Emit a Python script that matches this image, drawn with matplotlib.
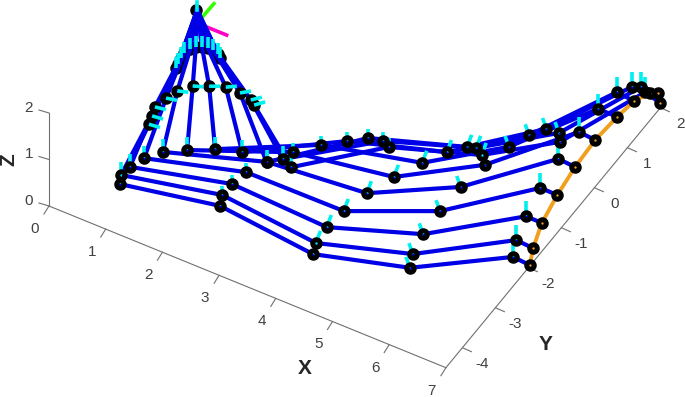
import numpy as np
import matplotlib
matplotlib.use('Agg')
import matplotlib.pyplot as plt

plt.rcParams['font.family'] = ['Liberation Sans', 'DejaVu Sans']

# node positions per column of the mesh, row 0 (front) to row 10 (back)
col0_x = [1.20, 1.12, 1.15, 1.24, 1.42, 1.72, 2.08, 2.47, 2.90, 3.08, 3.28]
col0_y = [-4.42, -4.24, -4.02, -3.75, -3.49, -3.27, -3.04, -2.89, -2.89, -2.71, -2.80]
col0_z = 1.0
col1_x = [2.66, 2.57, 2.58, 2.64, 2.80, 3.04, 3.33, 3.63, 3.88, 4.11, 4.25]
col1_y = [-3.89, -3.67, -3.39, -3.06, -2.71, -2.33, -1.98, -1.71, -1.49, -1.43, -1.50]
col1_z = 0.8
col2_x = [4.31, 4.23, 4.20, 4.25, 4.36, 4.54, 4.76, 4.97, 5.18, 5.31, 5.46]
col2_y = [-3.91, -3.68, -3.30, -2.87, -2.36, -1.85, -1.37, -0.98, -0.73, -0.68, -0.77]
col2_z = 0.6
col3_x = [5.69, 5.58, 5.50, 5.47, 5.48, 5.56, 5.68, 5.82, 5.98, 6.19, 6.30]
col3_y = [-3.34, -3.06, -2.61, -2.05, -1.44, -0.84, -0.32, 0.05, 0.30, 0.32, 0.16]
col3_z = 0.5
col4_x = [6.78, 6.64, 6.51, 6.39, 6.31, 6.29, 6.29, 6.36, 6.50, 6.62, 6.73]
col4_y = [-2.09, -1.75, -1.23, -0.59, 0.09, 0.75, 1.33, 1.79, 2.00, 2.07, 2.00]
col4_z = 0.2
edge_x = [6.99, 6.85, 6.69, 6.59, 6.52, 6.49, 6.53, 6.58, 6.70, 6.81, 6.94]
edge_y = [-1.94, -1.60, -1.06, -0.42, 0.24, 0.90, 1.50, 1.92, 2.20, 2.26, 2.09]
edge_z = 0.0

# the cone on top of column 0
ring1_x = [1.24, 1.19, 1.13, 1.18, 1.25, 1.40, 1.62, 1.85, 2.10, 2.32, 2.42]
ring1_y = [-3.60, -3.42, -3.23, -2.98, -2.76, -2.55, -2.43, -2.32, -2.32, -2.37, -2.44]
ring1_z = 1.6
ring2_x = [1.29, 1.27, 1.24, 1.23, 1.27, 1.32, 1.40, 1.49, 1.58, 1.69, 1.76]
ring2_y = [-2.86, -2.77, -2.64, -2.52, -2.40, -2.32, -2.27, -2.25, -2.24, -2.28, -2.34]
ring2_z = 2.2
apex = (1.24, -2.14, 2.8)

# normals at the nodes (dx, dy, dz)
col0_n = (0.0, 0.0, 0.27)
col1_n = (0.0, 0.0, 0.2)
col2_n = (0.08, 0.0, 0.3)
col3_n = (-0.07, 0.0, 0.2)
col4_n = (0.0, 0.0, 0.32)
ring2_n = (0.0, 0.0, 0.24)
ring1_n = (0.145, 0.084)
ring1_dz = [-0.07, -0.07, -0.06, -0.05, -0.03, -0.02, 0.0, 0.02, 0.04, 0.06, 0.07]

# tip frame
frame_origin = (1.28, -2.21, 2.6)
frame_x_end = (1.80, -2.21, 2.6)
frame_y_end = (1.29, -1.72, 2.6)

x_ticks = [0, 1, 2, 3, 4, 5, 6, 7]
y_ticks = [-4, -3, -2, -1, 0, 1, 2]
z_ticks = [0, 1, 2]
y_min = -4.5


def project(x, y, z):
    """Fixed view of the 3D axes, returns image position"""
    x, y, z = np.asarray(x, float), np.asarray(y, float), np.asarray(z, float)
    Y = y - y_min
    return 49 + 56.7 * x + 33 * Y, 206 + 23.1 * x - 40 * Y - 46.5 * z


def plot3(ax, x, y, z, **kw):
    px, py = project(x, y, z)
    ax.plot(px, py, **kw)


fig = plt.figure(figsize=(6.85, 3.97), dpi=100)
ax = fig.add_axes([0, 0, 1, 1])
ax.set_xlim(0, 685)
ax.set_ylim(397, 0)
ax.axis('off')

# axes
axis_col = '#707070'
tick_col = '#404040'
plot3(ax, [0, 7], [y_min, y_min], [0, 0], color=axis_col, lw=0.8)
plot3(ax, [7, 7], [y_min, 2], [0, 0], color=axis_col, lw=0.8)
plot3(ax, [0, 0], [y_min, y_min], [0, 2], color=axis_col, lw=0.8)
for t in x_ticks:
    px, py = project(t, y_min, 0)
    ax.plot([px, px - 5], [py, py + 8], color=axis_col, lw=0.8)
    ax.text(px - 14, py + 23, str(t), color=tick_col, fontsize=11, ha='center', va='center')
for t in y_ticks:
    px, py = project(7, t, 0)
    ax.plot([px, px + 9], [py, py + 4], color=axis_col, lw=0.8)
    ax.text(px + 20, py + 16, str(t), color=tick_col, fontsize=11, ha='center', va='center')
for t in z_ticks:
    px, py = project(0, y_min, t)
    ax.plot([px, px - 10], [py, py - 3], color=axis_col, lw=0.8)
    ax.text(px - 20, py - 5, str(t), color=tick_col, fontsize=11, ha='center', va='center')
ax.text(305, 369, 'X', color='#262626', fontsize=15, fontweight='bold', ha='center', va='center')
ax.text(546, 345, 'Y', color='#262626', fontsize=15, fontweight='bold', ha='center', va='center')
ax.text(9, 160, 'Z', color='#262626', fontsize=15, fontweight='bold', ha='center', va='center', rotation=90)

# tip frame sits behind the cone
plot3(ax, [frame_origin[0], frame_x_end[0]], [frame_origin[1], frame_x_end[1]],
      [frame_origin[2], frame_x_end[2]], color='#ff00c8', lw=2.6, zorder=1)
plot3(ax, [frame_origin[0], frame_y_end[0]], [frame_origin[1], frame_y_end[1]],
      [frame_origin[2], frame_y_end[2]], color='#33ff00', lw=2.6, zorder=1)

columns = [(col0_x, col0_y, col0_z), (col1_x, col1_y, col1_z), (col2_x, col2_y, col2_z),
           (col3_x, col3_y, col3_z), (col4_x, col4_y, col4_z), (edge_x, edge_y, edge_z)]
blue = '#0000e6'

# node markers, the upper ring stays under the cone lines
mark = dict(ls='none', marker='o', ms=5.4, mew=3.6, mfc='none', mec='black')
plot3(ax, ring2_x, ring2_y, [ring2_z] * 11, zorder=1.5, **mark)
plot3(ax, [apex[0] - 0.02], [apex[1]], [apex[2]], zorder=1.5, **mark)

# mesh rows and cone lines
for i in range(11):
    xs = [c[0][i] for c in columns]
    ys = [c[1][i] for c in columns]
    zs = [c[2] for c in columns]
    plot3(ax, xs, ys, zs, color=blue, lw=3.0, zorder=2, solid_capstyle='round')
    plot3(ax, [col0_x[i], ring1_x[i], ring2_x[i], apex[0]], [col0_y[i], ring1_y[i], ring2_y[i], apex[1]],
          [col0_z, ring1_z, ring2_z, apex[2]], color=blue, lw=3.0, zorder=2)

plot3(ax, edge_x, edge_y, [edge_z] * 11, color='#f0a01e', lw=2.8, zorder=2.5)

# normals
cyan = '#00f0f0'
normals = [(col0_x, col0_y, col0_z, col0_n), (col1_x, col1_y, col1_z, col1_n), (col2_x, col2_y, col2_z, col2_n),
           (col3_x, col3_y, col3_z, col3_n), (col4_x, col4_y, col4_z, col4_n)]
for cx, cy, cz, n in normals:
    for i in range(11):
        plot3(ax, [cx[i], cx[i] + n[0]], [cy[i], cy[i] + n[1]], [cz, cz + n[2]], color=cyan, lw=2.6, zorder=3,
              solid_capstyle='butt')
for i in range(11):
    plot3(ax, [ring2_x[i], ring2_x[i]], [ring2_y[i], ring2_y[i]], [ring2_z, ring2_z + ring2_n[2]], color=cyan,
          lw=2.6, zorder=4, solid_capstyle='butt')
    plot3(ax, [ring1_x[i], ring1_x[i] + ring1_n[0]], [ring1_y[i], ring1_y[i] + ring1_n[1]],
          [ring1_z, ring1_z + ring1_dz[i]], color=cyan, lw=2.6, zorder=4, solid_capstyle='butt')
plot3(ax, [apex[0], apex[0]], [apex[1], apex[1]], [apex[2], apex[2] + 0.18], color=cyan, lw=2.6, zorder=4)

# remaining node markers
all_x = sum([c[0] for c in columns], []) + ring1_x
all_y = sum([c[1] for c in columns], []) + ring1_y
all_z = sum([[c[2]] * 11 for c in columns], []) + [ring1_z] * 11
plot3(ax, all_x, all_y, all_z, zorder=3.5, **mark)

fig.savefig('out.png', dpi=100)
